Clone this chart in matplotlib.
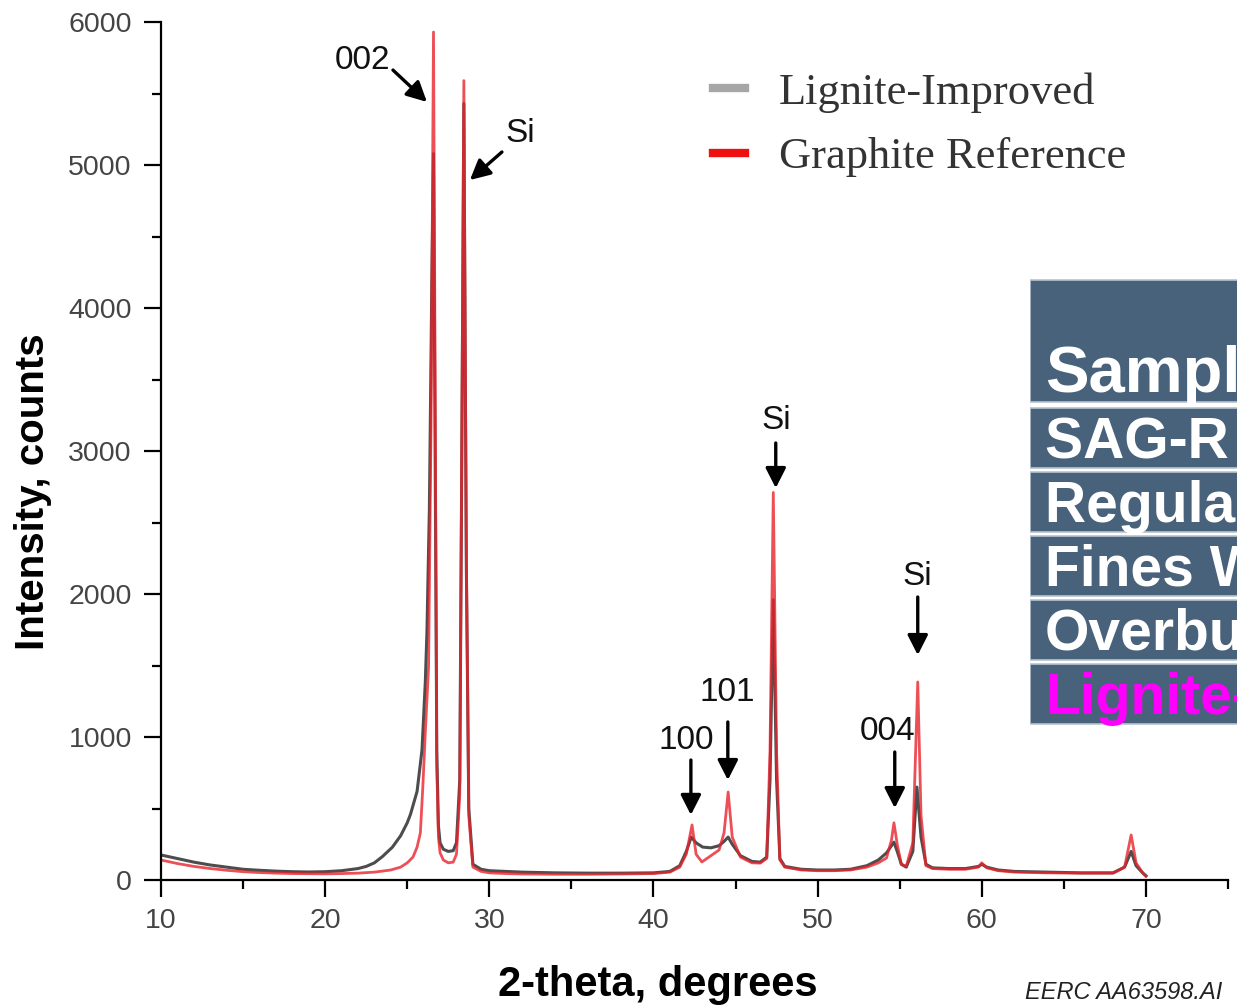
import matplotlib
matplotlib.use("Agg")
import matplotlib.pyplot as plt
from matplotlib.lines import Line2D
from matplotlib.patches import Rectangle
from matplotlib.ticker import MultipleLocator

plt.rcParams['font.family'] = ['Liberation Sans', 'DejaVu Sans']

# XRD pattern, Lignite-Improved sample
two_theta_li = [10.0, 11, 12, 13, 14, 15, 16, 17, 18, 19, 20, 21, 22, 22.5, 23, 23.5,
                24.1, 24.6, 25.0, 25.2, 25.6, 25.9, 26.1, 26.2, 26.35, 26.5, 26.6, 26.7,
                26.8, 26.9, 27.0, 27.2, 27.5, 27.8, 28.0, 28.2, 28.3, 28.45, 28.6, 28.75,
                29.0, 29.5, 30,
                31, 32, 34, 36, 38, 40, 41, 41.6, 42.0, 42.3, 42.6, 43.0, 43.5, 44.0,
                44.3, 44.55, 44.8, 45.3, 46.0, 46.5, 46.9, 47.1, 47.3, 47.5, 47.7, 48.0,
                49.0, 50, 51, 52, 53, 53.7, 54.2, 54.5, 54.65, 54.85, 55.1, 55.4, 55.8,
                56.05, 56.3, 56.6, 57, 58, 59, 59.8, 60.0, 60.3, 61, 62, 64, 66, 68,
                68.7, 69.1, 69.4, 69.8, 70.0]
counts_li = [175, 150, 125, 105, 90, 75, 68, 62, 58, 56, 58, 65, 80, 95, 120, 165,
             230, 310, 400, 460, 620, 910, 1380, 1730, 2600, 4200, 5080, 3000,
             900, 380, 260, 215, 200, 205, 260, 700, 2500, 5430, 2200, 500,
             110, 75, 65,
             60, 55, 50, 48, 48, 50, 60, 100, 200, 300, 260, 230, 225, 240,
             270, 300, 250, 170, 130, 125, 160, 700, 1960, 700, 150, 95,
             75, 70, 70, 75, 100, 140, 190, 240, 265, 200, 110, 90, 200,
             650, 300, 110, 85, 80, 80, 95, 110, 90, 70, 60, 55, 50, 50,
             90, 200, 100, 50, 30]

# XRD pattern, graphite reference
two_theta_gr = [10.0, 11, 12, 13, 14, 15, 16, 17, 18, 19, 20, 21, 22, 23, 24, 24.6,
                25.0, 25.35, 25.6, 25.8, 25.95, 26.1, 26.3, 26.45, 26.6, 26.7, 26.8,
                26.9, 27.0, 27.2, 27.5, 27.8, 28.0, 28.2, 28.3, 28.45, 28.6, 28.75,
                29.0, 29.5, 30,
                31, 32, 34, 36, 38, 40, 41, 41.6, 42.0, 42.35, 42.6, 42.95, 43.5, 44.0,
                44.3, 44.55, 44.8, 45.3, 46.0, 46.5, 46.9, 47.1, 47.3, 47.5, 47.7, 48.0,
                49, 50, 51, 52, 53, 53.7, 54.2, 54.5, 54.65, 54.85, 55.1, 55.4, 55.8,
                56.1, 56.3, 56.6, 57, 58, 59, 59.8, 60.0, 60.3, 61, 62, 64, 66, 68,
                68.7, 69.1, 69.4, 69.8, 70.0]
counts_gr = [140, 115, 95, 80, 68, 58, 52, 48, 45, 44, 43, 45, 48, 55, 70, 90,
             120, 160, 230, 330, 650, 1030, 1490, 3200, 5930, 3500, 800,
             300, 190, 140, 120, 125, 180, 600, 2600, 5590, 2300, 450,
             90, 60, 50,
             45, 42, 40, 40, 42, 45, 55, 90, 180, 385, 180, 126, 170, 210,
             330, 615, 300, 160, 120, 118, 150, 900, 2710, 900, 140, 90,
             70, 65, 65, 70, 90, 120, 154, 280, 400, 250, 110, 95, 260,
             1385, 450, 100, 80, 75, 75, 90, 120, 85, 65, 55, 50, 48, 48,
             90, 315, 120, 50, 25]

# peak labels: text, text position, arrow tail, arrow head
peak_labels = ['002', 'Si', 'Si', 'Si', '100', '101', '004']
label_pos = [(22.3, 5734), (31.86, 5217), (47.5, 3210), (56.1, 2119),
             (41.97, 979), (44.47, 1308), (54.28, 1035)]
arrow_tail = [(24.13, 5664), (30.77, 5091), (47.45, 3056), (56.1, 1979),
              (42.28, 839), (44.53, 1105), (54.7, 895)]
arrow_head = [(26.2, 5441), (28.82, 4895), (47.45, 2741), (56.1, 1573),
              (42.28, 455), (44.53, 699), (54.7, 503)]

series_names = ['Lignite-Improved', 'Graphite Reference']
table_rows = ['SAG-R Product', 'Regular Feed', 'Fines Waste', 'Overburden',
              'Lignite-Improved']

W, H = 1237, 1008
fig = plt.figure(figsize=(W / 100, H / 100), dpi=100)
ax = fig.add_axes([161 / W, 1 - 880 / H, (1228 - 161) / W, (880 - 22) / H])

ax.plot(two_theta_li, counts_li, color='#3a3a3a', lw=2.2, alpha=0.9)
ax.plot(two_theta_gr, counts_gr, color='#e8242c', lw=2.0, alpha=0.8)

ax.set_xlim(10, 75)
ax.set_ylim(0, 6000)
ax.xaxis.set_major_locator(MultipleLocator(10))
ax.xaxis.set_minor_locator(MultipleLocator(5))
ax.yaxis.set_major_locator(MultipleLocator(1000))
ax.yaxis.set_minor_locator(MultipleLocator(500))
for s in ['top', 'right']:
    ax.spines[s].set_visible(False)
for s in ['left', 'bottom']:
    ax.spines[s].set_linewidth(1.6)
ax.tick_params(which='major', length=12, width=1.6, labelsize=20.5,
               labelcolor='#444444', pad=8)
ax.tick_params(which='minor', length=6.5, width=1.6)
ax.tick_params(axis='y', which='major', pad=9)
# no label at the axis end (75)
ax.set_xticks([10, 20, 30, 40, 50, 60, 70])

for txt, pos, tail, head in zip(peak_labels, label_pos, arrow_tail, arrow_head):
    ax.text(pos[0], pos[1], txt, fontsize=24, ha='center', va='center', color='#111111')
    ax.annotate('', xy=head, xytext=tail,
                arrowprops=dict(arrowstyle='-|>,head_length=0.55,head_width=0.28',
                                lw=2.4, color='black', mutation_scale=22,
                                shrinkA=0, shrinkB=0))

handles = [Line2D([], [], color='#a6a6a6', lw=6),
           Line2D([], [], color='#ee1111', lw=6)]
ax.legend(handles, series_names, loc='upper left', frameon=False,
          bbox_to_anchor=(691 / W, 1 - 50 / H), bbox_transform=fig.transFigure,
          prop={'family': 'Liberation Serif', 'size': 32}, labelcolor='#333333',
          handlelength=0.72, handletextpad=0.75, labelspacing=0.55, borderpad=0)

fig.text(658 / W, 1 - 985 / H, '2-theta, degrees', fontsize=30, fontweight='bold',
         ha='center', va='center')
fig.text(33 / W, 1 - 492 / H, 'Intensity, counts', fontsize=29, fontweight='bold',
         ha='center', va='center', rotation=90)
fig.text(1025 / W, 1 - 999 / H, 'EERC AA63598.AI', fontsize=17, style='italic',
         color='#222222', ha='left', va='baseline')

# sample table in the right margin
tab = fig.add_axes([1030 / W, 1 - 728 / H, (W - 1030) / W, (728 - 278) / H])
tab.set_xlim(0, W - 1030)
tab.set_ylim(728, 278)
tab.axis('off')
fill = '#47627a'
edge = '#b8c3cd'
tab.add_patch(Rectangle((0, 280), 400, 122, facecolor=fill, edgecolor=edge, lw=1.2))
tab.text(15, 392, 'Sample', fontsize=47, fontweight='bold', color='white',
         va='baseline', clip_on=True)
row_tops = [408, 472, 536, 600, 664]
for i, (name, top) in enumerate(zip(table_rows, row_tops)):
    tab.add_patch(Rectangle((0, top), 400, 60, facecolor=fill, edgecolor=edge, lw=1.2))
    col = '#ff00ff' if i == len(table_rows) - 1 else 'white'
    tab.text(15, top + 50, name, fontsize=41, fontweight='bold', color=col,
             va='baseline', clip_on=True)

fig.savefig('out.png', dpi=100)
